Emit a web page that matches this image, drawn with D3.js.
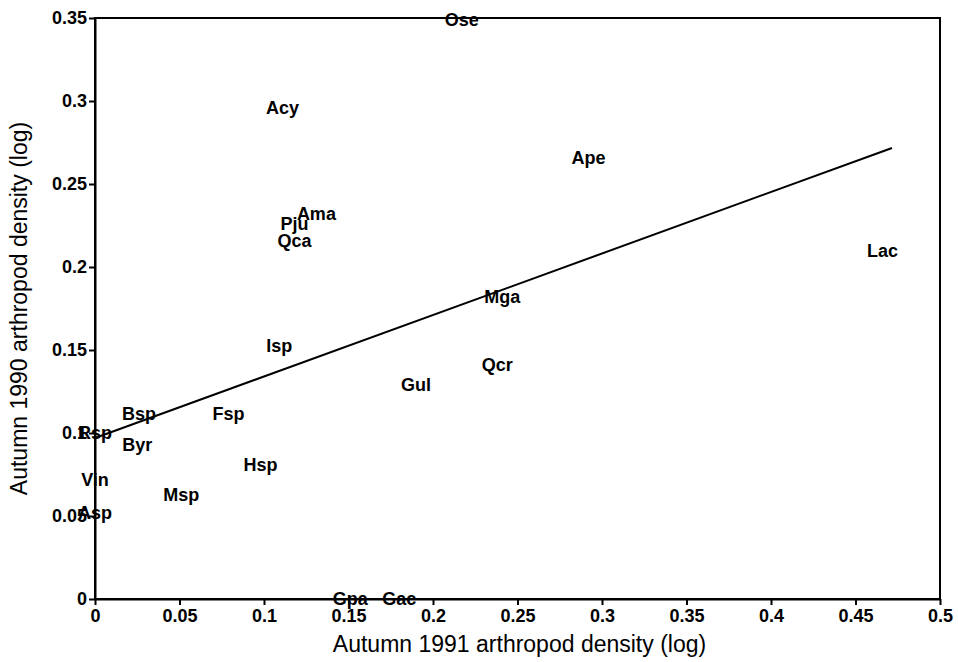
<!DOCTYPE html>
<html><head><meta charset="utf-8">
<script src="https://cdn.jsdelivr.net/npm/d3@7"></script>
<style>body{margin:0;background:#fff}</style>
</head><body>
<script>
const species = ["Ose","Acy","Ape","Ama","Pju","Qca","Lac","Mga","Isp","Qcr","Gul","Bsp","Fsp","Rsp","Byr","Hsp","Vin","Msp","Asp","Gpa","Gac"];
const x1991 = [0.217,0.111,0.292,0.131,0.118,0.118,0.466,0.241,0.109,0.238,0.190,0.026,0.079,0.000,0.025,0.098,0.000,0.051,0.000,0.151,0.180];
const y1990 = [0.349,0.296,0.266,0.2325,0.226,0.216,0.210,0.182,0.153,0.141,0.129,0.112,0.112,0.100,0.093,0.081,0.072,0.063,0.052,0.000,0.000];
const fitX = [0, 0.4716];
const fitY = [0.097, 0.2717];
const xTicks = [0,0.05,0.1,0.15,0.2,0.25,0.3,0.35,0.4,0.45,0.5];
const xTickLabels = ["0","0.05","0.1","0.15","0.2","0.25","0.3","0.35","0.4","0.45","0.5"];
const yTicks = [0,0.05,0.1,0.15,0.2,0.25,0.3,0.35];
const yTickLabels = ["0","0.05","0.1","0.15","0.2","0.25","0.3","0.35"];

const W=958,H=662;
const m={l:95,r:18,t:18,b:63};
const svg=d3.select("body").append("svg").attr("width",W).attr("height",H)
  .style("font-family","'Liberation Sans', Arial, sans-serif");
const x=d3.scaleLinear().domain([0,0.5]).range([m.l,W-m.r]);
const y=d3.scaleLinear().domain([0,0.35]).range([H-m.b,m.t]);

// frame
svg.append("rect").attr("x",x(0)).attr("y",y(0.35)).attr("width",x(0.5)-x(0)).attr("height",y(0)-y(0.35))
  .attr("fill","none").attr("stroke","#000").attr("stroke-width",2);

const xa=svg.append("g").attr("transform",`translate(0,${y(0)})`)
  .call(d3.axisBottom(x).tickValues(xTicks).tickFormat((d,i)=>xTickLabels[i]).tickSize(6).tickPadding(4).tickSizeOuter(0));
const ya=svg.append("g").attr("transform",`translate(${x(0)},0)`)
  .call(d3.axisLeft(y).tickValues(yTicks).tickFormat((d,i)=>yTickLabels[i]).tickSize(6).tickPadding(2).tickSizeOuter(0));
[xa,ya].forEach(g=>{
  g.select(".domain").attr("stroke","#000").attr("stroke-width",2);
  g.selectAll(".tick line").attr("stroke","#000").attr("stroke-width",2);
  g.selectAll(".tick text").attr("fill","#000").style("font-size","18px").style("font-weight","bold");
});
xa.selectAll(".tick text").attr("dy","0.72em");

// regression line
svg.append("path").datum(fitX.map((v,i)=>[v,fitY[i]]))
  .attr("d",d3.line().x(d=>x(d[0])).y(d=>y(d[1])))
  .attr("fill","none").attr("stroke","#000").attr("stroke-width",2);

// labels
svg.append("g").selectAll("text").data(species).join("text")
  .attr("x",(d,i)=>x(x1991[i])).attr("y",(d,i)=>y(y1990[i]))
  .attr("text-anchor","middle").attr("dy","0.36em")
  .style("font-size","18px").style("font-weight","bold").attr("fill","#000")
  .text(d=>d);

// axis titles
svg.append("text").attr("x",(x(0)+x(0.5))/2 + 2).attr("y",652).attr("text-anchor","middle")
  .style("font-size","23px").attr("fill","#000").text("Autumn 1991 arthropod density (log)");
svg.append("text").attr("transform",`translate(27,${(y(0)+y(0.35))/2}) rotate(-90)`).attr("text-anchor","middle")
  .style("font-size","23px").attr("fill","#000").text("Autumn 1990 arthropod density (log)");
</script>
</body></html>
